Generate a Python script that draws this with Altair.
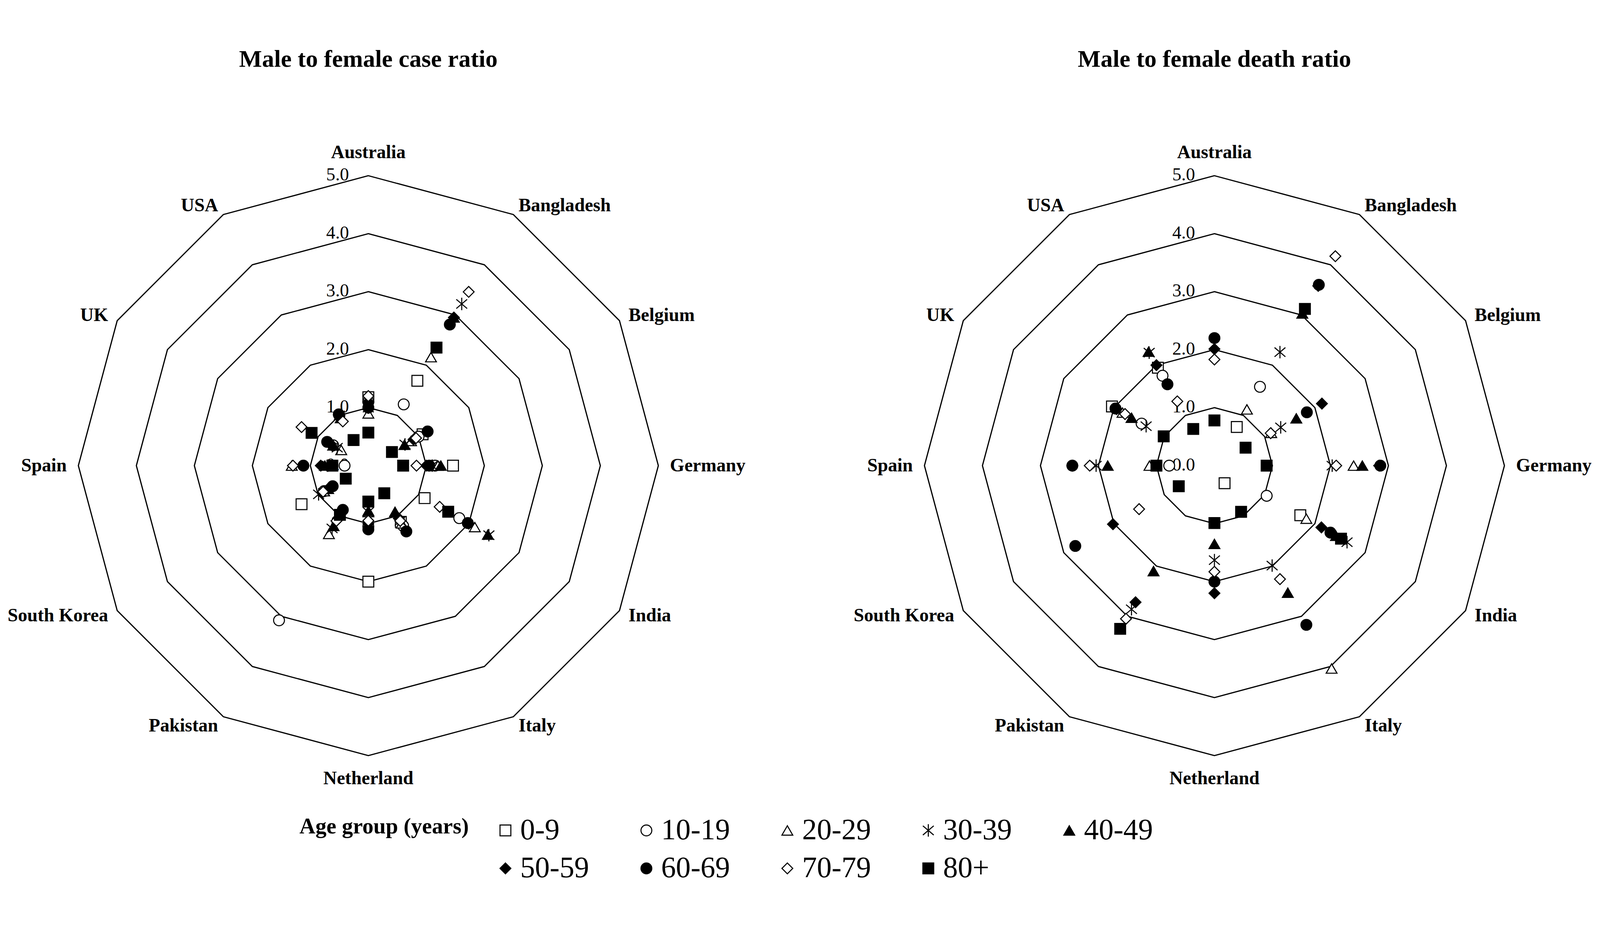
import altair as alt
import pandas as pd

# ---------------- data ----------------
countries = ["Australia", "Bangladesh", "Belgium", "Germany", "India", "Italy",
             "Netherland", "Pakistan", "South Korea", "Spain", "UK", "USA"]
age_groups = ["0-9", "10-19", "20-29", "30-39", "40-49", "50-59", "60-69", "70-79", "80+"]

# Male to female case ratio (order of countries as above)
case_0_9   = [1.18, 1.69, 1.08, 1.46, 1.12, 1.12, 2.00, None, 1.33, None, None, None]
case_10_19 = [1.10, 1.22, 1.00, 1.15, 1.81, 1.20, 1.05, 3.08, 0.88, 0.41, 0.70, 1.00]
case_20_29 = [0.90, 2.16, 0.85, 1.20, 2.12, 1.15, 0.80, 1.36, 0.88, 1.32, 0.54, 0.95]
case_30_39 = [1.00, 3.22, 0.73, 1.10, 2.40, 1.10, 0.80, 1.25, 0.99, 0.70, 0.62, 1.00]
case_40_49 = [1.05, 2.95, 0.72, 1.25, 2.38, 0.92, 0.78, 1.20, 0.80, 0.75, 0.70, 0.95]
case_50_59 = [1.10, 2.95, 0.90, 1.00, 2.00, 1.05, 1.00, 1.05, 0.80, 0.82, 0.75, 1.00]
case_60_69 = [1.00, 2.81, 1.18, 1.05, 1.98, 1.31, 1.10, 0.88, 0.71, 1.12, 0.82, 1.02]
case_70_79 = [1.20, 3.46, 0.95, 0.83, 1.42, 1.10, 0.95, 1.10, 0.90, 1.30, 1.33, 0.88]
case_80    = [0.57, 2.35, 0.47, 0.60, 1.59, 0.55, 0.62, 0.98, 0.45, 0.62, 1.13, 0.51]

# Male to female death ratio
death_0_9   = [None, 0.77, None, None, 1.71, 0.35, None, None, None, None, 2.04, 1.95]
death_10_19 = [None, 1.57, None, None, 1.04, None, None, None, None, 0.78, 1.45, 1.79]
death_20_29 = [None, 1.12, 1.13, 2.40, 1.83, 4.04, None, None, None, 1.12, 1.83, None]
death_30_39 = [None, 2.26, 1.32, 2.03, 2.64, 1.99, 1.63, 2.86, None, 2.04, 1.36, 2.25]
death_40_49 = [None, 3.03, 1.63, 2.55, 2.42, 2.53, 1.35, 2.10, None, 1.84, 1.65, 2.27]
death_50_59 = [2.01, 3.58, 2.14, 2.84, 2.13, None, 2.20, 2.72, 2.02, 2.45, 1.95, 2.00]
death_60_69 = [2.20, 3.60, 1.84, 2.86, 2.31, 3.17, 2.00, None, 2.77, 2.45, 1.97, 1.62]
death_70_79 = [1.83, 4.17, 1.12, 2.10, None, 2.26, 1.83, 3.05, 1.50, 2.15, 1.78, 1.28]
death_80    = [0.78, 3.12, 0.62, 0.90, 2.52, 0.92, 0.99, 3.25, 0.71, 1.00, 1.01, 0.73]

case_series = [case_0_9, case_10_19, case_20_29, case_30_39, case_40_49,
               case_50_59, case_60_69, case_70_79, case_80]
death_series = [death_0_9, death_10_19, death_20_29, death_30_39, death_40_49,
                death_50_59, death_60_69, death_70_79, death_80]

rings = [1, 2, 3, 4, 5]
tick_values = [0, 1, 2, 3, 4, 5]
panel_titles = ["Male to female case ratio", "Male to female death ratio"]

# ---------------- layout / style ----------------
FONT = "Liberation Serif"
STAR = "M0,-1.15L0,1.15M-1,-0.85L1,0.85M-1,0.85L1,-0.85"
shapes = ["square", "circle", "triangle-up", STAR, "triangle-up",
          "diamond", "circle", "diamond", "square"]
fills = ["white", "white", "white", "transparent", "black",
         "black", "black", "white", "black"]

UNIT = 165                 # pixels per ratio unit
PW, PH = 4534, 2355        # drawing area
CX0, CY0 = 1039, 1185      # centre of the first radar (px in drawing area)
OFF = (3446 - 1039) / UNIT # distance between the two radar centres, in units

x_min = -CX0 / UNIT
x_max = x_min + PW / UNIT
y_max = CY0 / UNIT
y_min = y_max - PH / UNIT

xs = alt.Scale(domain=[x_min, x_max], nice=False, zero=False)
ys = alt.Scale(domain=[y_min, y_max], nice=False, zero=False)
X = alt.X("px:Q", scale=xs, axis=None)
Y = alt.Y("py:Q", scale=ys, axis=None)


def polar(chart, rexpr):
    return chart.transform_calculate(
        ang="PI/2 - datum.idx*PI/6"
    ).transform_calculate(
        px=f"({rexpr})*cos(datum.ang) + datum.panel*{OFF}",
        py=f"({rexpr})*sin(datum.ang)",
    )


# tables built from the lists above
pts_rows = []
for p, series in enumerate([case_series, death_series]):
    for a, vals in zip(age_groups, series):
        for i, (c, v) in enumerate(zip(countries, vals)):
            if v is not None:
                pts_rows.append({"panel": p, "age": a, "country": c, "idx": i, "value": v})
pts_df = pd.DataFrame(pts_rows)

ring_df = pd.DataFrame([{"panel": p, "ring": r, "idx": k}
                        for p in range(2) for r in rings for k in range(len(countries))])
tick_df = pd.DataFrame([{"panel": p, "v": v, "idx": 0} for p in range(2) for v in tick_values])
label_df = pd.DataFrame([{"panel": p, "name": c, "idx": i}
                         for p in range(2) for i, c in enumerate(countries)])
title_df = pd.DataFrame({"panel": [0, 1], "title": panel_titles})

# ---------------- layers ----------------
ring_layer = polar(alt.Chart(ring_df), "datum.ring").mark_line(
    interpolate="linear-closed", color="black", strokeWidth=3.4
).encode(x=X, y=Y, detail=["panel:N", "ring:N"], order="idx:Q")

tick_layer = polar(alt.Chart(tick_df), "datum.v").mark_text(
    align="right", baseline="middle", dx=-55, dy=-2, font=FONT, fontSize=52, color="black"
).encode(x=X, y=Y, text=alt.Text("v:Q", format=".1f"))

base_lab = alt.Chart(label_df).transform_calculate(
    ang="PI/2 - datum.idx*PI/6"
).transform_calculate(
    c="cos(datum.ang)", s="sin(datum.ang)"
).transform_calculate(
    lr="abs(datum.c) < 0.1 ? 5.4 : (abs(datum.s) < 0.1 ? 5.2 : 5.18)"
).transform_calculate(
    px=f"datum.lr*datum.c + datum.panel*{OFF}", py="datum.lr*datum.s"
)
txt = dict(font=FONT, fontSize=53, fontWeight="bold", color="black", baseline="middle")
lab_left = base_lab.transform_filter("datum.c > 0.1").mark_text(align="left", **txt).encode(
    x=X, y=Y, text="name:N")
lab_right = base_lab.transform_filter("datum.c < -0.1").mark_text(align="right", **txt).encode(
    x=X, y=Y, text="name:N")
lab_mid = base_lab.transform_filter("abs(datum.c) <= 0.1").mark_text(align="center", **txt).encode(
    x=X, y=Y, text="name:N")

title_layer = alt.Chart(title_df).transform_calculate(
    px=f"datum.panel*{OFF}"
).mark_text(
    align="center", baseline="middle", font=FONT, fontSize=69, fontWeight="bold", color="black"
).encode(x=X, y=alt.value(29), text="title:N")

legend = alt.Legend(
    title="Age group (years)", orient="none", legendX=843, legendY=2181,
    direction="horizontal", columns=5, gridAlign="all",
    titleOrient="left", titleAnchor="start", titleBaseline="top",
    titleFont=FONT, titleFontSize=63, titleFontWeight="bold", titleColor="black",
    titlePadding=62, titleLimit=0,
    labelFont=FONT, labelFontSize=84, labelColor="black", labelOffset=0, labelLimit=0,
    symbolSize=950, symbolStrokeWidth=3, symbolOpacity=1,
    columnPadding=121, rowPadding=24,
)

pts = polar(alt.Chart(pts_df), "datum.value").mark_point(
    size=950, strokeWidth=3, opacity=1, fillOpacity=1, strokeOpacity=1
).encode(
    x=X, y=Y,
    shape=alt.Shape("age:N", scale=alt.Scale(domain=age_groups, range=shapes), legend=legend),
    fill=alt.Fill("age:N", scale=alt.Scale(domain=age_groups, range=fills), legend=legend),
    stroke=alt.Stroke("age:N", scale=alt.Scale(domain=age_groups, range=["black"] * len(age_groups)),
                      legend=legend),
)

chart = alt.layer(
    ring_layer, tick_layer, lab_left, lab_right, lab_mid, title_layer, pts
).properties(
    width=PW, height=PH, padding=0, background="white",
    autosize=alt.AutoSizeParams(type="none"),
).configure_view(stroke=None)

chart.save("out.html", embed_options={"renderer": "svg", "actions": False})
